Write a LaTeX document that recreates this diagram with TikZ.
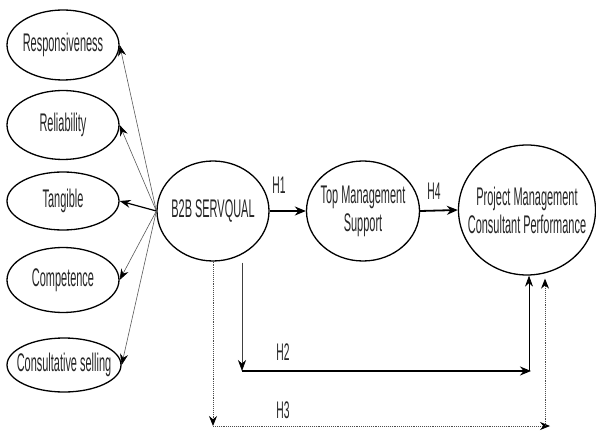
\documentclass[tikz,border=0pt]{standalone}
\usepackage{fontspec}
\setmainfont{Liberation Sans}[FakeStretch=0.43]
\usepackage{tikz}
\usetikzlibrary{arrows.meta,positioning,shapes.geometric,calc}

\begin{document}
\begin{tikzpicture}[x=1pt, y=-1pt,
  dim/.style={draw, ellipse, line width=1.3pt, inner xsep=-16pt, inner ysep=-7pt, align=center,
              font=\fontsize{25.5}{28}\selectfont, text=black!85},
  lbl/.style={font=\fontsize{24}{26}\selectfont, text=black!85},
  thin arrow/.style={-{Stealth[length=11pt, width=8pt, color=black]}, line width=0.6pt, draw=black!65},
  bold arrow/.style={-{Stealth[length=11pt, width=9pt]}, line width=1.8pt},
  dot arrow/.style={-{Stealth[length=10pt, width=8pt, color=black]}, line width=0.9pt, densely dotted, draw=black!70}
]
\useasboundingbox (0,0) rectangle (596,435);

% dimensions of B2B SERVQUAL
\node[dim, minimum width=112pt, minimum height=70pt] (resp) at (63,45) {Responsiveness};
\node[dim, minimum width=112pt, minimum height=69pt] (reli) at (63,125) {Reliability};
\node[dim, minimum width=112pt, minimum height=58pt] (tang) at (63,201) {Tangible};
\node[dim, minimum width=112pt, minimum height=65pt] (comp) at (63,280) {Competence};
\node[dim, minimum width=114pt, minimum height=54pt] (cons) at (64,365) {Consultative selling};

% main constructs
\node[dim, minimum width=112pt, minimum height=100pt] (b2b) at (213,211) {B2B SERVQUAL};
\node[dim, minimum width=113pt, minimum height=100pt] (tms) at (363,211) {Top Management\\Support};
\node[dim, minimum width=137pt, minimum height=130pt] (pmcp) at (527,210) {Project Management\\Consultant Performance};

\draw[thin arrow] (b2b.west) -- (resp.east);
\draw[thin arrow] (b2b.west) -- (reli.east);
\draw[-{Stealth[length=11pt, width=8pt]}, line width=1.2pt] (b2b.west) -- (tang.east);
\draw[thin arrow] (b2b.west) -- (comp.east);
\draw[thin arrow] (b2b.west) -- (cons.east);

\draw[bold arrow] (b2b.east) -- (tms.west);
\draw[bold arrow] (tms.east) -- (pmcp.west);
\node[lbl] (h1) at (279,185) {H1};
\node[lbl] (h4) at (434,191) {H4};

% H2 path
\coordinate (h2a) at ($(b2b.south)+(29,1)$);
\coordinate (h2b) at (242,371);
\coordinate (h2c) at (531,371);
\draw[thin arrow, draw=black!75] (h2a) -- (h2b);
\draw[bold arrow] (h2b) -- (h2c);
\draw[thin arrow, draw=black, line width=0.8pt] ($(h2c)+(-2,0)$) -- ($(pmcp.south)+(2,0)$);
\node[lbl] (h2) at (283,352) {H2};

% H3 path
\coordinate (h3a) at (213,426);
\coordinate (h3b) at (550,426);
\draw[dot arrow] (b2b.south) -- (h3a);
\draw[dot arrow] (h3a) -- (h3b);
\draw[dot arrow] ($(h3b)+(-5,0)$) -- ($(pmcp.south)+(18,3)$);
\node[lbl] (h3) at (283,410) {H3};
\end{tikzpicture}
\end{document}
